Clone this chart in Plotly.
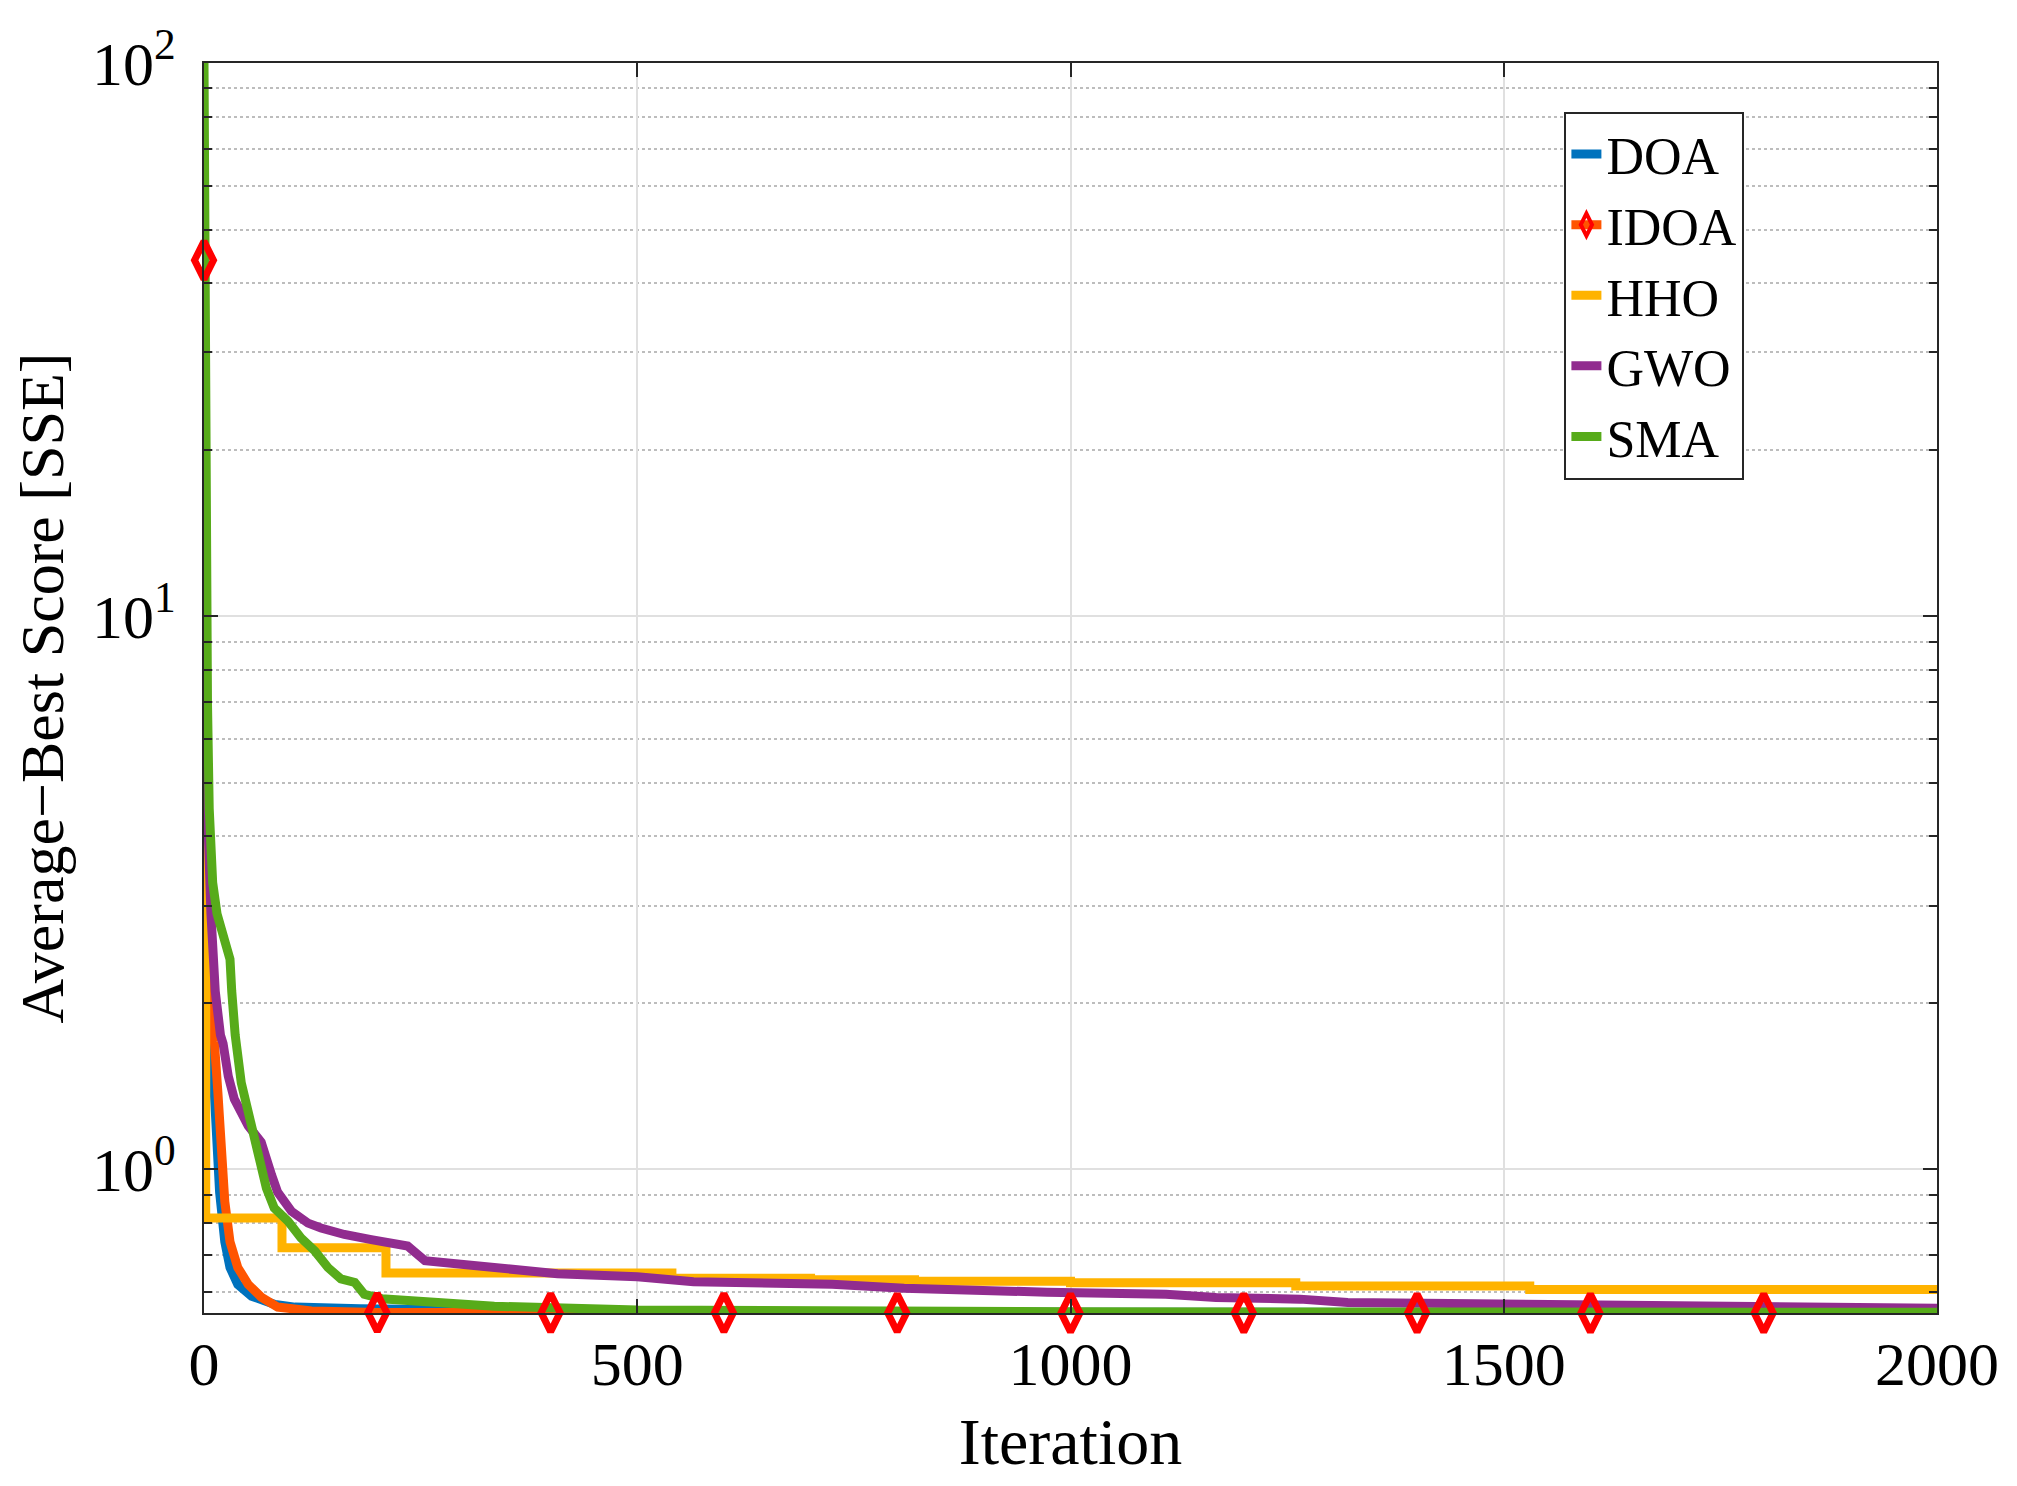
import plotly.graph_objects as go

# Konvergenzkurven (Iteration, mittlerer bester SSE)
doa_it = [0, 1, 3, 5, 8, 12, 18, 24, 30, 39, 55, 82, 105, 180, 400, 1000, 2000]
doa_val = [33, 5.0, 2.8, 2.2, 1.75, 1.29, 0.91, 0.74, 0.665, 0.62, 0.59, 0.57, 0.564,
           0.56, 0.555, 0.552, 0.551]

idoa_it = [0, 1, 3, 5, 8, 12, 16, 20, 24, 30, 39, 51, 66, 85, 124,
           200, 400, 600, 800, 1000, 1200, 1400, 1600, 1800, 2000]
idoa_val = [44, 12, 5.5, 3.5, 2.3, 1.7, 1.38, 1.12, 0.875, 0.74, 0.665, 0.62, 0.588, 0.564, 0.555,
            0.5515, 0.551, 0.5507, 0.5506, 0.5505, 0.5505, 0.5505, 0.5505, 0.5505, 0.5505]

hho_it = [0, 2, 90, 210, 540, 700, 820, 1000, 1260, 1530, 2000]
hho_val = [4.8, 0.817, 0.722, 0.65, 0.636, 0.632, 0.628, 0.624, 0.616, 0.607, 0.606]

gwo_it = [0, 1, 2, 4, 8, 13, 19, 22, 28, 35, 51, 66, 78, 85, 101, 120, 135, 162, 193, 212, 235,
          255, 328, 408, 500, 565, 725, 808, 973, 1110, 1168, 1265, 1320, 1500, 1780, 2000]
gwo_val = [40, 12, 8.5, 4.5, 2.9, 2.1, 1.75, 1.69, 1.475, 1.34, 1.2, 1.12, 0.977, 0.91, 0.84, 0.80,
           0.784, 0.763, 0.747, 0.737, 0.727, 0.684, 0.665, 0.648, 0.64, 0.627, 0.62, 0.61, 0.60,
           0.595, 0.587, 0.583, 0.575, 0.571, 0.566, 0.561]

sma_it = [0, 1, 2, 3, 4, 6, 10, 15, 20, 25, 30, 32, 36, 43, 52, 60, 66, 72, 81, 97, 112, 128,
          143, 158, 174, 185, 205, 258, 335, 500, 1000, 2000]
sma_val = [100, 40, 18, 10, 7, 4.5, 3.3, 2.9, 2.7, 2.5, 2.4, 2.1, 1.75, 1.435, 1.25, 1.12, 1.02,
           0.925, 0.852, 0.806, 0.752, 0.712, 0.665, 0.634, 0.625, 0.595, 0.584, 0.576, 0.566,
           0.557, 0.553, 0.552]

y_ticks = [1, 10, 100]
y_ticktext = ["10<sup>0</sup>", "10<sup>1</sup>", "10<sup>2</sup>"]
y_minor = [m * d for d in (0.1, 1, 10) for m in range(2, 10) if m * d >= 0.55]
x_ticks = [0, 500, 1000, 1500, 2000]

FONT = "Liberation Serif"
LW = 9

fig = go.Figure()
fig.add_trace(go.Scatter(x=doa_it, y=doa_val, mode="lines", name="DOA",
                         line=dict(color="#0072BD", width=LW), legendrank=1))
fig.add_trace(go.Scatter(x=idoa_it, y=idoa_val, mode="lines", showlegend=False,
                         line=dict(color="#FF5500", width=LW)))
fig.add_trace(go.Scatter(x=hho_it, y=hho_val, mode="lines", name="HHO", line_shape="hv",
                         line=dict(color="#FFB300", width=LW), legendrank=3))
fig.add_trace(go.Scatter(x=gwo_it, y=gwo_val, mode="lines", name="GWO",
                         line=dict(color="#912C8F", width=LW), legendrank=4))
fig.add_trace(go.Scatter(x=sma_it, y=sma_val, mode="lines", name="SMA",
                         line=dict(color="#57AB1A", width=LW), legendrank=5))

# Marker der IDOA-Kurve alle 200 Iterationen
mk = [(i, v) for i, v in zip(idoa_it, idoa_val) if i % 200 == 0 and i < 2000]
fig.add_trace(go.Scatter(x=[p[0] for p in mk], y=[p[1] for p in mk], mode="markers",
                         showlegend=False, cliponaxis=False,
                         marker=dict(symbol="diamond-tall-open", size=27, color="#FF0000",
                                     line=dict(width=7, color="#FF0000"))))
# Legendeneintrag für IDOA (Linie + Marker)
fig.add_trace(go.Scatter(x=[None], y=[None], mode="lines+markers", name="IDOA", legendrank=2,
                         line=dict(color="#FF5500", width=LW),
                         marker=dict(symbol="diamond-tall-open", size=16, color="#FF0000",
                                     line=dict(width=4, color="#FF0000"))))

# die Seite hat 8px Rand, daher Ränder um 8px verschoben
fig.update_layout(
    width=2017, height=1486,
    margin=dict(l=196, r=88, t=43, b=181),
    plot_bgcolor="white", paper_bgcolor="white",
    font=dict(family=FONT, size=62, color="black"),
    showlegend=True,
    legend=dict(x=0.785, y=0.961, xanchor="left", yanchor="top",
                bgcolor="white", bordercolor="#262626", borderwidth=2,
                font=dict(family=FONT, size=52, color="black")),
)
fig.update_xaxes(
    range=[0, 2000], tickvals=x_ticks, ticks="inside", ticklen=14, tickwidth=2,
    tickcolor="#262626", showline=True, linecolor="#262626", linewidth=2, mirror="allticks",
    showgrid=True, gridcolor="#e0e0e0", gridwidth=2, zeroline=False,
    ticklabelstandoff=-4, ticklabeloverflow="allow",
    title=dict(text="Iteration", font=dict(family=FONT, size=66), standoff=20),
)
fig.update_yaxes(
    type="log", range=[-0.2594, 2], tickvals=y_ticks, ticktext=y_ticktext,
    ticks="inside", ticklen=14, tickwidth=2, tickcolor="#262626",
    showline=True, linecolor="#262626", linewidth=2, mirror="allticks",
    showgrid=True, gridcolor="#e0e0e0", gridwidth=2, zeroline=False,
    ticklabelstandoff=14, ticklabeloverflow="allow",
    minor=dict(tickvals=y_minor, ticks="inside", ticklen=8, tickwidth=2, tickcolor="#262626",
               showgrid=True, gridcolor="#bdbdbd", griddash="dot", gridwidth=2),
    title=dict(text="Average\u2212Best Score [SSE]", font=dict(family=FONT, size=62), standoff=9),
)

fig.write_html("out.html")
